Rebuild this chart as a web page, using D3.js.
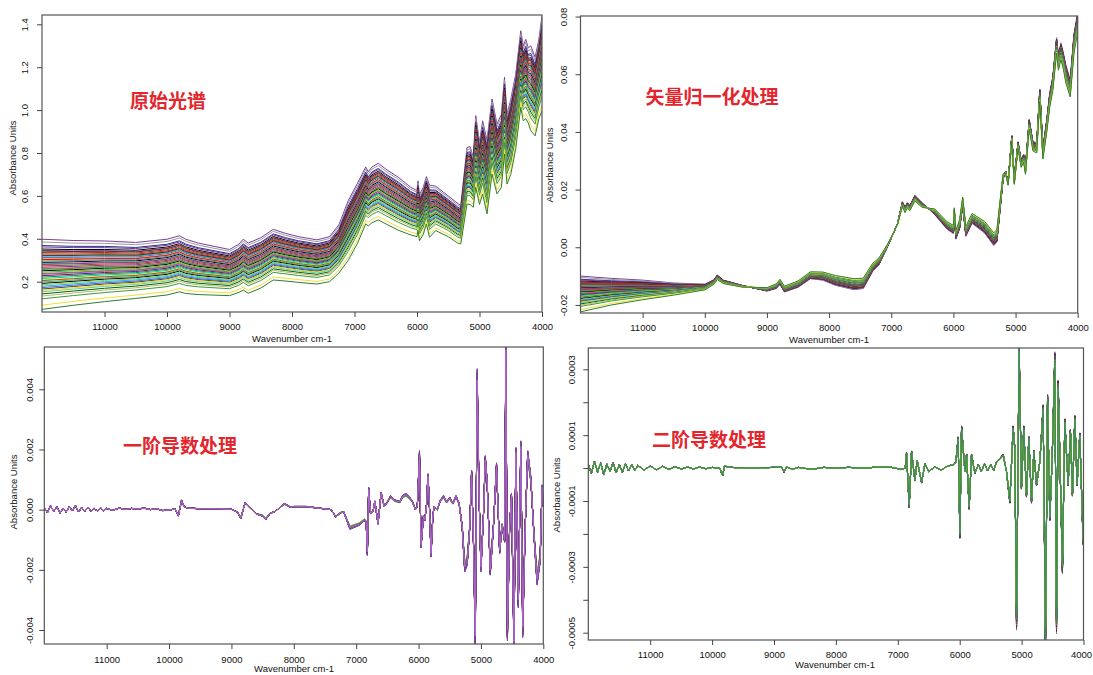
<!DOCTYPE html>
<html>
<head>
<meta charset="utf-8">
<script src="https://cdn.jsdelivr.net/npm/d3@7"></script>
<style>
  body { margin: 0; background: #fff; }
  svg text { font-family: "Liberation Sans", Arial, sans-serif; }
</style>
</head>
<body>
<svg id="chart" width="1093" height="675"></svg>
<script>
// ---- data ----
var xTicks = [11000, 10000, 9000, 8000, 7000, 6000, 5000, 4000];

// raw spectra: [wavenumber, lowest curve, highest curve]
var rawSpectra = [
  [12000, 0.071, 0.398], [11500, 0.090, 0.392], [11000, 0.107, 0.390], [10500, 0.122, 0.383],
  [10000, 0.138, 0.398], [9800, 0.153, 0.414], [9700, 0.145, 0.398], [9500, 0.140, 0.380],
  [9000, 0.135, 0.350], [8850, 0.150, 0.375], [8780, 0.161, 0.398], [8700, 0.146, 0.380],
  [8500, 0.170, 0.405], [8300, 0.208, 0.444], [8100, 0.203, 0.425], [7900, 0.197, 0.410],
  [7600, 0.189, 0.395], [7400, 0.200, 0.410], [7250, 0.240, 0.465], [7100, 0.300, 0.578],
  [6950, 0.380, 0.660], [6820, 0.470, 0.735], [6780, 0.460, 0.712], [6720, 0.475, 0.735],
  [6620, 0.488, 0.752], [6500, 0.470, 0.725], [6300, 0.440, 0.687], [6100, 0.418, 0.640],
  [6000, 0.410, 0.625], [5985, 0.440, 0.670], [5960, 0.391, 0.605], [5900, 0.420, 0.640],
  [5850, 0.469, 0.690], [5800, 0.407, 0.650], [5700, 0.438, 0.645], [5500, 0.410, 0.600],
  [5350, 0.380, 0.565], [5300, 0.376, 0.555], [5200, 0.562, 0.826], [5150, 0.560, 0.830],
  [5100, 0.547, 0.780], [5060, 0.640, 0.974], [5000, 0.560, 0.850], [4950, 0.609, 0.950],
  [4880, 0.516, 0.860], [4800, 0.702, 1.052], [4720, 0.609, 0.935], [4650, 0.640, 0.980],
  [4600, 0.795, 1.153], [4560, 0.655, 0.980], [4500, 0.700, 1.050], [4420, 0.820, 1.168],
  [4340, 1.013, 1.370], [4300, 0.950, 1.300], [4260, 0.960, 1.330], [4220, 0.940, 1.290],
  [4180, 0.904, 1.300], [4110, 0.880, 1.246], [4050, 0.960, 1.330], [4000, 0.997, 1.440]
];

// vector-normalised spectra: [wavenumber, middle, half spread (signed)]
var normSpectra = [
  [12000, -0.0162, 0.0062], [11500, -0.0154, 0.0046], [11000, -0.0148, 0.0034], [10500, -0.0145, 0.0021],
  [10000, -0.0138, 0.0010], [9850, -0.0120, 0.0008], [9800, -0.0104, 0.0008], [9700, -0.0120, 0.0006],
  [9400, -0.0135, 0.0003], [9000, -0.0146, -0.0006], [8850, -0.0135, -0.0008], [8790, -0.0120, -0.0009],
  [8720, -0.0145, -0.0010], [8500, -0.0128, -0.0011], [8300, -0.0097, -0.0012], [8100, -0.0100, -0.0014],
  [7900, -0.0115, -0.0017], [7600, -0.0128, -0.0019], [7450, -0.0125, -0.0018], [7300, -0.0070, -0.0014],
  [7200, -0.0050, -0.0012], [7050, 0.0010, -0.0004], [6900, 0.0080, 0.0002], [6820, 0.0150, 0.0008],
  [6780, 0.0130, 0.0010], [6740, 0.0145, 0.0010], [6700, 0.0136, 0.0009], [6620, 0.0170, 0.0010],
  [6500, 0.0146, 0.0008], [6300, 0.0123, -0.0010], [6100, 0.0075, -0.0013], [6000, 0.0062, -0.0014],
  [5985, 0.0123, -0.0014], [5960, 0.0043, -0.0015], [5900, 0.0080, -0.0016], [5850, 0.0158, -0.0016],
  [5800, 0.0055, -0.0017], [5700, 0.0100, -0.0017], [5500, 0.0070, -0.0020], [5350, 0.0028, -0.0022],
  [5300, 0.0040, -0.0022], [5200, 0.0245, -0.0010], [5160, 0.0260, 0.0004], [5120, 0.0220, 0.0005],
  [5060, 0.0378, 0.0010], [5020, 0.0230, 0.0012], [4960, 0.0355, 0.0011], [4910, 0.0290, 0.0013],
  [4870, 0.0309, 0.0014], [4840, 0.0268, 0.0015], [4780, 0.0427, 0.0017], [4720, 0.0350, 0.0016],
  [4660, 0.0345, 0.0018], [4610, 0.0528, 0.0021], [4560, 0.0326, 0.0020], [4500, 0.0418, 0.0022],
  [4450, 0.0510, 0.0025], [4400, 0.0568, 0.0024], [4340, 0.0700, 0.0027], [4310, 0.0640, 0.0026],
  [4270, 0.0680, 0.0029], [4230, 0.0645, 0.0028], [4190, 0.0600, 0.0031], [4120, 0.0551, 0.0030],
  [4060, 0.0707, 0.0033], [4000, 0.0780, 0.0034]
];

// first derivative: [wavenumber, value]
var firstDeriv = [
  [12000, 0.00005], [11950, -0.00010], [11900, 0.00012], [11850, -0.00006], [11800, 0.00009],
  [11750, -0.00011], [11700, 0.00004], [11650, -0.00008], [11600, 0.00010], [11550, -0.00004],
  [11500, 0.00013], [11450, -0.00007], [11400, 0.00006], [11350, -0.00005], [11300, 0.00008],
  [11250, -0.00006], [11200, 0.00003], [11150, -0.00004], [11100, 0.00006], [11050, -0.00003],
  [11000, 0.00004], [10900, -0.00002], [10800, 0.00005], [10700, 0.00001], [10600, 0.00004],
  [10500, 0.00002], [10400, 0.00005], [10300, 0.00000], [10200, 0.00003], [10100, -0.00003],
  [10000, -0.00001], [9900, 0.00002], [9850, -0.00020], [9800, 0.00030], [9760, 0.00010],
  [9700, 0.00005], [9500, 0.00003], [9200, 0.00003], [9000, 0.00001], [8900, -0.00008],
  [8850, -0.00028], [8780, 0.00023], [8700, 0.00005], [8600, -0.00014], [8500, -0.00020],
  [8450, -0.00031], [8380, -0.00012], [8300, -0.00006], [8150, 0.00019], [8050, 0.00008],
  [8000, 0.00010], [7800, 0.00010], [7600, 0.00005], [7400, 0.00000], [7330, -0.00023],
  [7250, -0.00010], [7200, -0.00007], [7100, -0.00060], [6950, -0.00048], [6870, -0.00034],
  [6840, -0.00040], [6820, -0.00140], [6800, 0.00068], [6770, -0.00012], [6730, -0.00005],
  [6700, 0.00027], [6650, -0.00045], [6600, 0.00054], [6550, 0.00010], [6500, 0.00025],
  [6450, 0.00043], [6380, 0.00030], [6300, 0.00025], [6250, 0.00045], [6200, 0.00049],
  [6150, 0.00040], [6100, 0.00027], [6050, 0.00000], [6020, 0.00010], [5985, 0.00180],
  [5960, -0.00117], [5920, -0.00020], [5900, -0.00034], [5870, 0.00020], [5850, 0.00110],
  [5830, 0.00040], [5800, -0.00145], [5770, -0.00020], [5750, 0.00010], [5700, 0.00000],
  [5650, 0.00030], [5600, 0.00043], [5550, 0.00025], [5500, 0.00038], [5450, 0.00020],
  [5400, 0.00043], [5350, 0.00020], [5300, -0.00056], [5260, -0.00190], [5220, -0.00170],
  [5180, -0.00060], [5150, 0.00120], [5120, -0.00100], [5090, -0.00420], [5060, 0.00430],
  [5030, 0.00050], [5000, -0.00190], [4960, -0.00023], [4930, 0.00165], [4900, 0.00088],
  [4870, -0.00080], [4850, -0.00200], [4800, -0.00056], [4750, 0.00143], [4700, -0.00134],
  [4660, -0.00050], [4620, -0.00100], [4600, 0.00530], [4575, -0.00400], [4540, -0.00060],
  [4510, 0.00050], [4470, -0.00440], [4440, 0.00190], [4400, -0.00300], [4360, 0.00210],
  [4330, -0.00390], [4290, -0.00056], [4250, 0.00180], [4200, 0.00100], [4150, -0.00080],
  [4100, -0.00230], [4050, -0.00160], [4020, 0.00076], [4000, 0.00010]
];

// second derivative: [wavenumber, value]
var secondDeriv = [
  [12000, 0.000010], [11950, -0.000015], [11900, 0.000020], [11850, -0.000012], [11800, 0.000015],
  [11750, -0.000020], [11700, 0.000012], [11650, -0.000010], [11600, 0.000016], [11550, -0.000014],
  [11500, 0.000010], [11450, -0.000012], [11400, 0.000012], [11350, -0.000008], [11300, 0.000010],
  [11250, -0.000008], [11200, 0.000008], [11100, -0.000006], [11000, 0.000006], [10900, -0.000005],
  [10800, 0.000005], [10700, -0.000004], [10600, 0.000004], [10500, -0.000003], [10400, 0.000003],
  [10300, -0.000003], [10200, 0.000003], [10100, -0.000002], [10000, 0.000002], [9880, 0.000000],
  [9830, -0.000022], [9800, 0.000006], [9700, 0.000002], [9400, 0.000000], [9000, 0.000002],
  [8880, 0.000004], [8840, -0.000012], [8800, 0.000004], [8700, -0.000004], [8600, 0.000002],
  [8400, -0.000004], [8200, 0.000002], [8000, 0.000000], [7800, 0.000002], [7500, 0.000000],
  [7300, 0.000004], [7100, 0.000002], [6950, -0.000004], [6880, 0.000000], [6859, 0.000044],
  [6816, -0.000113], [6778, 0.000049], [6724, -0.000037], [6688, 0.000023], [6616, -0.000043],
  [6562, 0.000013], [6500, -0.000010], [6400, 0.000004], [6300, -0.000006], [6200, 0.000006],
  [6100, 0.000010], [6062, 0.000018], [6025, 0.000089], [5997, -0.000200], [5970, 0.000120],
  [5916, -0.000010], [5889, 0.000040], [5847, -0.000118], [5809, 0.000040], [5755, -0.000015],
  [5700, 0.000010], [5650, -0.000010], [5600, 0.000012], [5550, -0.000008], [5500, 0.000010],
  [5450, -0.000006], [5400, 0.000020], [5340, 0.000030], [5298, 0.000040], [5244, -0.000010],
  [5190, -0.000100], [5137, 0.000120], [5110, 0.000060], [5082, -0.000460], [5040, 0.000360],
  [5002, -0.000060], [4965, 0.000120], [4921, -0.000083], [4883, 0.000090], [4840, -0.000100],
  [4802, 0.000050], [4759, -0.000050], [4705, 0.000020], [4652, 0.000180], [4614, -0.000520],
  [4581, 0.000210], [4544, -0.000150], [4506, 0.000030], [4463, 0.000330], [4436, -0.000470],
  [4409, 0.000250], [4340, -0.000300], [4302, 0.000140], [4248, -0.000050], [4211, 0.000110],
  [4178, -0.000080], [4140, 0.000150], [4103, -0.000050], [4060, 0.000100], [4006, -0.000220],
  [4000, -0.000220]
];

// one colour and one position (0 = lowest, 1 = highest) per sample
var sampleColors = ["#7d3c98", "#9a9a9a", "#2c2c8c", "#6b3fa0", "#000000", "#d62728", "#1f3d7a", "#8b4513",
  "#e31a1c", "#000000", "#2e8b57", "#4169e1", "#ff7f0e", "#b22222", "#708090", "#000000", "#20b2aa",
  "#c71585", "#556b2f", "#dc143c", "#1e90ff", "#808000", "#000000", "#32cd32", "#ff4500", "#4682b4",
  "#8b008b", "#228b22", "#00ced1", "#e6e600", "#a0522d", "#3cb371", "#000000", "#9acd32", "#00bfff",
  "#6a5acd", "#2f4f4f", "#ffd700", "#66cdaa", "#006400", "#bdb76b", "#3a9a3a", "#f0e030", "#2e7d32"];
var sampleLevels = [1.00, 0.96, 0.91, 0.89, 0.86, 0.84, 0.83, 0.81, 0.79, 0.77, 0.76, 0.74, 0.72, 0.71,
  0.69, 0.67, 0.65, 0.64, 0.62, 0.60, 0.58, 0.57, 0.55, 0.53, 0.51, 0.50, 0.48, 0.46, 0.44, 0.42, 0.41,
  0.39, 0.37, 0.35, 0.33, 0.31, 0.29, 0.27, 0.25, 0.22, 0.19, 0.15, 0.06, 0.00];

var firstDerivScatter = 0.18;   // sample-to-sample amplitude spread
var secondDerivScatter = 0.14;

// ---- build the series ----
var rawSeries = sampleLevels.map(function(l, i) {
  return { color: sampleColors[i], points: rawSpectra.map(d => [d[0], d[1] + l * (d[2] - d[1])]) };
});
var normSeries = sampleLevels.map(function(l, i) {
  return { color: sampleColors[i], points: normSpectra.map(d => [d[0], d[1] + (l - 0.5) * 2 * d[2]]) };
});
var d1Series = sampleLevels.map(function(l, i) {
  return { color: sampleColors[i], points: firstDeriv.map(d => [d[0], d[1] * (1 + (l - 0.5) * firstDerivScatter)]) };
}).reverse();
d1Series.push({ color: "#b466d2", points: firstDeriv });
var d2Series = sampleLevels.map(function(l, i) {
  return { color: sampleColors[i], points: secondDeriv.map(d => [d[0], d[1] * (1 + (l - 0.5) * secondDerivScatter)]) };
});
d2Series.push({ color: "#3f8f5c", points: secondDeriv });

var minus = s => s.replace("\u2212", "-");
var d2Labels = ["0.0003", "0.0001", "-0.0001", "-0.0003", "-0.0005"];

var panels = [
  { id: 1, left: 42, right: 542, top: 15, bottom: 312, yDomain: [0.0587, 1.4434],
    yTicks: [0.2, 0.4, 0.6, 0.8, 1.0, 1.2, 1.4], fmt: d => d3.format(".1f")(d),
    yLabDist: 17, yTitle: [13, 158], xLabelY: 327, xTitle: [292, 339],
    title: "原始光谱", titlePos: [168, 101], series: rawSeries },
  { id: 2, left: 580.5, right: 1077.7, top: 16, bottom: 313, yDomain: [-0.0228, 0.0802],
    yTicks: [-0.02, 0, 0.02, 0.04, 0.06, 0.08], fmt: d => minus(d3.format(".2f")(d)),
    yLabDist: 17, yTitle: [550, 165], xLabelY: 328, xTitle: [829, 340],
    title: "矢量归一化处理", titlePos: [712, 97], series: normSeries },
  { id: 3, left: 44.3, right: 543.3, top: 347, bottom: 644, yDomain: [-0.004465, 0.005406],
    yTicks: [-0.004, -0.002, 0, 0.002, 0.004], fmt: d => minus(d3.format(".3f")(d)),
    yLabDist: 15, yTitle: [13.5, 492], xLabelY: 660, xTitle: [294, 669],
    title: "一阶导数处理", titlePos: [180, 446], series: d1Series },
  { id: 4, left: 588.3, right: 1083.5, top: 348, bottom: 640, yDomain: [-0.0005222, 0.0003647],
    yTicks: [-0.0005, -0.0004, -0.0003, -0.0002, -0.0001, 0, 0.0001, 0.0002, 0.0003],
    fmt: d => { var s = minus(d3.format(".4f")(d)); return d2Labels.indexOf(s) >= 0 ? s : ""; },
    yLabDist: 17, yTitle: [557, 495], xLabelY: 655, xTitle: [835, 665],
    title: "二阶导数处理", titlePos: [709, 440], series: d2Series }
];

var svg = d3.select("#chart");
svg.append("rect").attr("width", 1093).attr("height", 675).attr("fill", "#fff");

function drawPanel(p) {
  var x = d3.scaleLinear().domain([12000, 4000]).range([p.left, p.right]);
  var y = d3.scaleLinear().domain(p.yDomain).range([p.bottom, p.top]);
  var g = svg.append("g");

  svg.append("clipPath").attr("id", "clip" + p.id)
    .append("rect").attr("x", p.left).attr("y", p.top)
    .attr("width", p.right - p.left).attr("height", p.bottom - p.top);

  var line = d3.line().x(d => x(d[0])).y(d => y(d[1]));
  var lines = g.append("g").attr("clip-path", "url(#clip" + p.id + ")");
  p.series.forEach(function(s) {
    lines.append("path").attr("d", line(s.points))
      .attr("fill", "none").attr("stroke", s.color).attr("stroke-width", 1);
  });

  // frame
  g.append("rect").attr("x", p.left).attr("y", p.top)
    .attr("width", p.right - p.left).attr("height", p.bottom - p.top)
    .attr("fill", "none").attr("stroke", "#555").attr("stroke-width", 1.2);

  // x axis
  var xa = g.append("g").attr("transform", "translate(0," + p.bottom + ")")
    .call(d3.axisBottom(x).tickValues(xTicks).tickSize(5).tickSizeOuter(0).tickFormat(d3.format("d")));
  xa.select(".domain").remove();
  xa.selectAll("line").attr("stroke", "#444");
  xa.selectAll("text").attr("y", p.xLabelY - p.bottom).attr("dy", "0.35em")
    .attr("font-size", "9.5px").attr("fill", "#111")
    .attr("dx", d => (x(d) > 1080 ? -2.5 : 0));

  // y axis
  var ya = g.append("g").attr("transform", "translate(" + p.left + ",0)")
    .call(d3.axisLeft(y).tickValues(p.yTicks).tickSize(5).tickSizeOuter(0).tickFormat(p.fmt));
  ya.select(".domain").remove();
  ya.selectAll("line").attr("stroke", "#444");
  ya.selectAll("text").attr("x", 0).attr("dy", "0.35em")
    .attr("transform", "translate(" + (-p.yLabDist) + ",0) rotate(-90)")
    .attr("text-anchor", "middle").attr("font-size", "9.5px").attr("fill", "#111");

  g.append("text").attr("transform", "translate(" + p.yTitle[0] + "," + p.yTitle[1] + ") rotate(-90)")
    .attr("text-anchor", "middle").attr("dy", "0.35em")
    .attr("font-size", "9.5px").attr("fill", "#111").text("Absorbance Units");

  g.append("text").attr("x", p.xTitle[0]).attr("y", p.xTitle[1]).attr("dy", "0.35em")
    .attr("text-anchor", "middle").attr("font-size", "9.5px").attr("fill", "#111")
    .text("Wavenumber cm-1");

  g.append("text").attr("x", p.titlePos[0]).attr("y", p.titlePos[1]).attr("dy", "0.35em")
    .attr("text-anchor", "middle")
    .style("font-family", "'Noto Sans CJK SC', sans-serif")
    .attr("font-weight", 700).attr("font-size", "19px").attr("fill", "#e3262d")
    .text(p.title);
}

panels.forEach(drawPanel);
</script>
</body>
</html>
